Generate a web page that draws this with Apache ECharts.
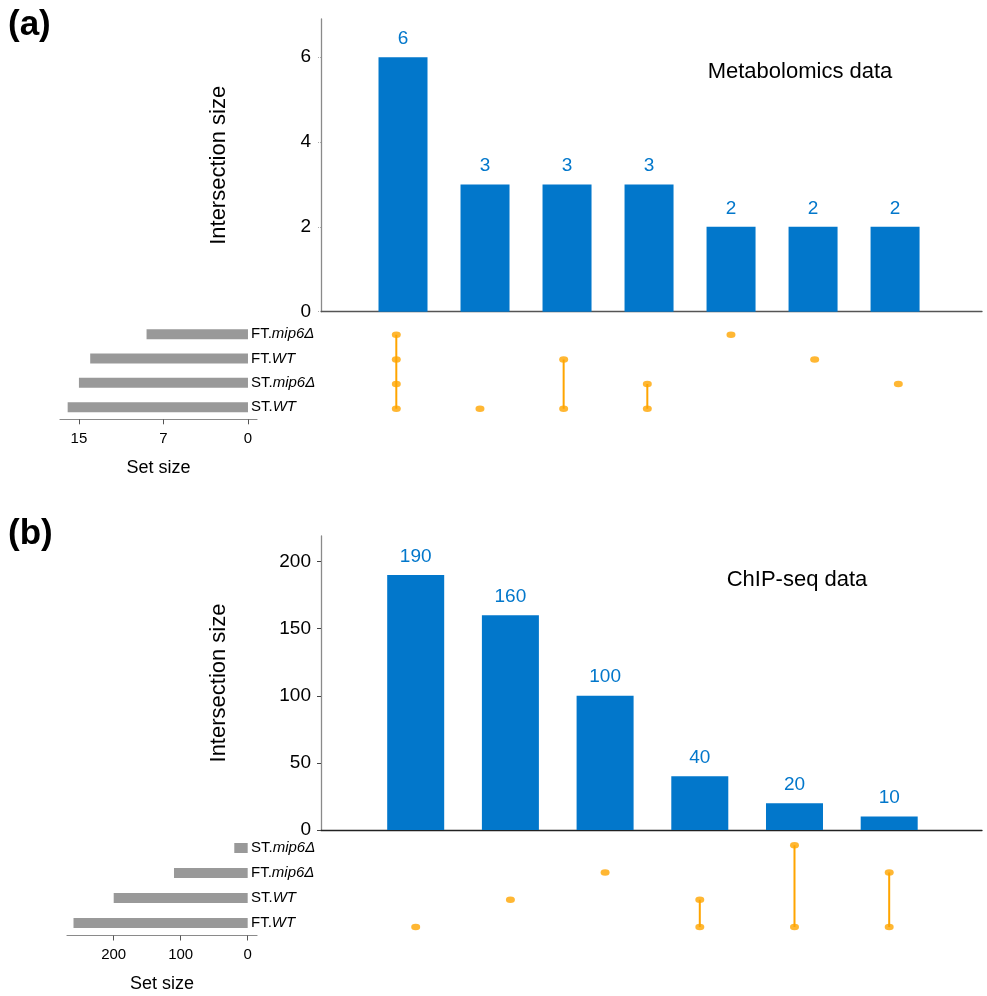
<!DOCTYPE html>
<html>
<head>
<meta charset="utf-8">
<script src="https://cdn.jsdelivr.net/npm/echarts@6/dist/echarts.min.js"></script>
<style>
  html, body { margin: 0; padding: 0; background: #ffffff; }
  #chart { width: 987px; height: 996px; }
</style>
</head>
<body>
<div id="chart"></div>
<script>
// ---- Panel (a): metabolomics data ----
const metaSets = ['FT.mip6Δ', 'FT.WT', 'ST.mip6Δ', 'ST.WT'];
const metaSetSizes = [9, 14, 15, 16];
const metaIntersections = [6, 3, 3, 3, 2, 2, 2];
// set indices (rows, top to bottom) taking part in each intersection
const metaMembers = [[0, 1, 2, 3], [3], [1, 3], [2, 3], [0], [1], [2]];
const metaYTicks = [0, 2, 4, 6];
const metaSetTicks = [0, 7.5, 15];
const metaSetTickLabels = ['0', '7', '15'];

// ---- Panel (b): ChIP-seq data ----
const chipSets = ['ST.mip6Δ', 'FT.mip6Δ', 'ST.WT', 'FT.WT'];
const chipSetSizes = [20, 110, 200, 260];
const chipIntersections = [190, 160, 100, 40, 20, 10];
const chipMembers = [[3], [2], [1], [2, 3], [0, 3], [1, 3]];
const chipYTicks = [0, 50, 100, 150, 200];
const chipSetTicks = [0, 100, 200];
const chipSetTickLabels = ['0', '100', '200'];

const BLUE = '#0277CB';
const ORANGE = '#FFA500';
const GREY_BAR = '#999999';
const FONT = 'Liberation Sans, Arial, Helvetica, sans-serif';

const chart = echarts.init(document.getElementById('chart'), null, { renderer: 'canvas' });

// "FT.mip6Δ" -> plain prefix, italic genotype
function setLabel(name) {
  const k = name.indexOf('.');
  return '{n|' + name.slice(0, k + 1) + '}{i|' + name.slice(k + 1) + '}';
}

const grids = [
  { left: 321, width: 661, top: 19, height: 292.7 },    // a: intersection bars
  { left: 321, width: 661, top: 322.5, height: 98.5 },  // a: membership matrix
  { left: 60, width: 197, top: 322, height: 97.3 },     // a: set sizes
  { left: 321, width: 661, top: 536, height: 294 },     // b: intersection bars
  { left: 321, width: 661, top: 831.5, height: 109 },   // b: membership matrix
  { left: 67, width: 190, top: 835.5, height: 100 }     // b: set sizes
];

const hiddenValueX = (grid, min, max) => ({
  type: 'value', gridIndex: grid, min: min, max: max,
  axisLabel: { show: false }, axisTick: { show: false }, splitLine: { show: false },
  axisLine: { show: false }
});

const barX = (grid, min, max, lineColor) => ({
  type: 'value', gridIndex: grid, min: min, max: max,
  axisLabel: { show: false }, axisTick: { show: false }, splitLine: { show: false },
  axisLine: { show: true, onZero: false, lineStyle: { color: lineColor, width: 1.3 } }
});

const setSizeX = (grid, min, max, ticks, labels) => ({
  type: 'value', gridIndex: grid, min: min, max: max, inverse: true,
  name: 'Set size', nameLocation: 'middle', nameGap: 40,
  nameTextStyle: { fontFamily: FONT, fontSize: 18, color: '#000' },
  splitLine: { show: false },
  axisLine: { show: true, onZero: false, lineStyle: { color: '#8a8a8a', width: 1.2 } },
  axisTick: { show: true, customValues: ticks, length: 5, lineStyle: { color: '#555' } },
  axisLabel: {
    show: true, customValues: ticks, margin: 12,
    fontFamily: FONT, fontSize: 15, color: '#000',
    formatter: v => labels[ticks.indexOf(v)]
  }
});

const intersectY = (grid, max, ticks, tickStyle) => ({
  type: 'value', gridIndex: grid, min: 0, max: max,
  name: 'Intersection size', nameLocation: 'middle', nameRotate: 90, nameGap: 91,
  nameTextStyle: { fontFamily: FONT, fontSize: 22, color: '#000' },
  splitLine: { show: false },
  axisLine: { show: true, onZero: false, lineStyle: { color: '#8a8a8a', width: 1.3 } },
  axisTick: { show: true, customValues: ticks, length: 4, lineStyle: tickStyle },
  axisLabel: { show: true, customValues: ticks, margin: 10, fontFamily: FONT, fontSize: 19, color: '#000' }
});

const matrixY = (grid, sets) => ({
  type: 'category', gridIndex: grid, data: sets, inverse: true,
  axisLine: { show: false }, axisTick: { show: false }, axisLabel: { show: false }, splitLine: { show: false }
});

const setNameY = (grid, sets) => ({
  type: 'category', gridIndex: grid, data: sets, inverse: true, position: 'right', offset: -8,
  axisLine: { show: false, onZero: false }, axisTick: { show: false }, splitLine: { show: false },
  axisLabel: {
    show: true, margin: 2, align: 'left',
    formatter: setLabel,
    rich: {
      n: { fontFamily: FONT, fontSize: 15, color: '#000' },
      i: { fontFamily: FONT, fontSize: 15, color: '#000', fontStyle: 'italic' }
    }
  }
});

const xAxes = [
  barX(0, -1, 7.06, '#555'),
  hiddenValueX(1, -0.9, 7.0),
  setSizeX(2, -0.8, 16.68, metaSetTicks, metaSetTickLabels),
  barX(3, -1, 5.98, '#222'),
  hiddenValueX(4, -1, 5.98),
  setSizeX(5, -13.9, 269.7, chipSetTicks, chipSetTickLabels)
];

const yAxes = [
  intersectY(0, 6.9, metaYTicks, { color: '#aaa', type: 'dotted' }),
  matrixY(1, metaSets),
  setNameY(2, metaSets),
  intersectY(3, 219, chipYTicks, { color: '#444' }),
  matrixY(4, chipSets),
  setNameY(5, chipSets)
];

function intersectionBars(values, axisIdx, width) {
  return {
    type: 'bar', xAxisIndex: axisIdx, yAxisIndex: axisIdx, barWidth: width,
    data: values.map((v, i) => [i, v]),
    itemStyle: { color: BLUE },
    label: {
      show: true, position: 'top', distance: 9,
      fontFamily: FONT, fontSize: 19, color: BLUE,
      formatter: p => String(p.value[1])
    }
  };
}

function setBars(sizes, sets, axisIdx) {
  return {
    type: 'bar', xAxisIndex: axisIdx, yAxisIndex: axisIdx, barWidth: 10,
    data: sizes.map((v, i) => [v, sets[i]]),
    itemStyle: { color: GREY_BAR }
  };
}

function matrixSeries(members, sets, axisIdx) {
  const out = [];
  members.forEach((rows, col) => {
    if (rows.length > 1) {
      const lo = Math.min(...rows), hi = Math.max(...rows);
      out.push({
        type: 'line', xAxisIndex: axisIdx, yAxisIndex: axisIdx,
        data: [[col, sets[lo]], [col, sets[hi]]],
        symbol: 'none', lineStyle: { color: ORANGE, width: 2 }, z: 2, silent: true
      });
    }
  });
  const pts = [];
  members.forEach((rows, col) => rows.forEach(r => pts.push([col, sets[r]])));
  out.push({
    type: 'scatter', xAxisIndex: axisIdx, yAxisIndex: axisIdx,
    data: pts, symbol: 'circle', symbolSize: [9, 6.5],
    itemStyle: { color: ORANGE }, z: 3
  });
  return out;
}

const series = [
  intersectionBars(metaIntersections, 0, 49),
  ...matrixSeries(metaMembers, metaSets, 1),
  setBars(metaSetSizes, metaSets, 2),
  intersectionBars(chipIntersections, 3, 57),
  ...matrixSeries(chipMembers, chipSets, 4),
  setBars(chipSetSizes, chipSets, 5)
];

const textStyleBase = { fontFamily: FONT, fill: '#000' };

chart.setOption({
  animation: false,
  backgroundColor: '#ffffff',
  grid: grids,
  xAxis: xAxes,
  yAxis: yAxes,
  series: series,
  graphic: [
    { type: 'text', left: 8, top: 8, style: Object.assign({ text: '(a)', fontSize: 35, fontWeight: 'bold' }, textStyleBase) },
    { type: 'text', left: 8, top: 517, style: Object.assign({ text: '(b)', fontSize: 35, fontWeight: 'bold' }, textStyleBase) },
    { type: 'text', x: 800, y: 72, style: Object.assign({ text: 'Metabolomics data', fontSize: 22, align: 'center', verticalAlign: 'middle' }, textStyleBase) },
    { type: 'text', x: 797, y: 580, style: Object.assign({ text: 'ChIP-seq data', fontSize: 22, align: 'center', verticalAlign: 'middle' }, textStyleBase) }
  ]
});
</script>
</body>
</html>
